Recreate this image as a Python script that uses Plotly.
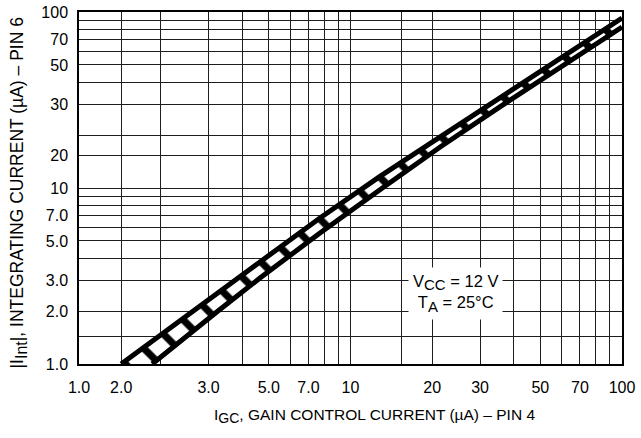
import plotly.graph_objects as go

# Boundary curves of the characteristic band
upper_x = [1.43, 1.99, 2.68, 3.25, 4.64, 7.72, 12.8, 21.4, 35.5, 59.1, 100]
upper_y = [1.0, 1.46, 2.05, 2.53, 3.80, 6.75, 11.6, 19.5, 32.5, 54.1, 92.4]
lower_x = [1.86, 2.46, 3.25, 4.64, 7.72, 12.8, 21.4, 35.5, 59.1, 100]
lower_y = [1.0, 1.42, 2.0, 3.08, 5.55, 9.74, 17.1, 28.9, 48.7, 82.2]

# Grid positions and tick labels
x_grid = [1, 1.43, 2, 3, 4, 5, 6, 7, 8, 9, 10, 15.4, 20, 30, 40, 50, 60, 70, 80, 90, 100]
x_labels = ["1.0", "2.0", "", "3.0", "", "5.0", "", "7.0", "", "", "10",
            "", "20", "30", "", "50", "", "70", "", "", "100"]
y_grid = [1, 1.44, 2, 3, 4, 5, 6, 7, 8, 9, 10, 15.4, 20, 30, 40, 50, 60, 70, 80, 90, 100]
y_labels = ["1.0", "", "2.0", "3.0", "", "5.0", "", "7.0", "", "", "10",
            "20", "", "30", "", "50", "", "70", "", "", "100"]

FONT = "Liberation Sans, Arial, Helvetica, sans-serif"


def sub(t, size):
    return '<sub><span style="font-size:%dpx">%s</span></sub>' % (size, t)


fig = go.Figure()

# hatched band between the two curves
fig.add_trace(go.Scatter(
    x=upper_x + lower_x[::-1],
    y=upper_y + lower_y[::-1],
    mode="none", fill="toself", fillcolor="white",
    fillpattern=dict(shape="\\", size=24, solidity=0.3,
                     fgcolor="black", bgcolor="white", fillmode="replace"),
    showlegend=False, hoverinfo="skip"))

for xs, ys in [(upper_x, upper_y), (lower_x, lower_y)]:
    fig.add_trace(go.Scatter(x=xs, y=ys, mode="lines",
                             line=dict(color="black", width=5),
                             showlegend=False, hoverinfo="skip"))

axis_common = dict(type="log", showgrid=True, gridcolor="#1e1e1e", gridwidth=1.1,
                   showline=True, linecolor="black", linewidth=1.5, mirror=True,
                   ticks="", zeroline=False, tickmode="array", automargin=False,
                   tickfont=dict(family=FONT, size=16, color="black"))

fig.update_xaxes(range=[0, 2], tickvals=x_grid, ticktext=x_labels,
                 ticklabelstandoff=8, **axis_common)
fig.update_yaxes(range=[0, 2], tickvals=y_grid, ticktext=y_labels,
                 ticklabelstandoff=6, **axis_common)

fig.add_annotation(
    xref="paper", yref="paper", x=0.694, y=0.199,
    xanchor="center", yanchor="middle",
    text="V" + sub("CC", 15) + " = 12 V<br>T" + sub("A", 15) + " = 25°C",
    showarrow=False, bgcolor="white", borderpad=4,
    font=dict(family=FONT, size=16.5, color="black"), align="center")

fig.add_annotation(
    xref="paper", yref="paper", x=0.545, y=-0.148,
    xanchor="center", yanchor="middle",
    text="I" + sub("GC", 14) + ", GAIN CONTROL CURRENT (µA) – PIN 4",
    showarrow=False, font=dict(family=FONT, size=15.5, color="black"))

fig.add_annotation(
    xref="paper", yref="paper", x=-0.112, y=0.485,
    xanchor="center", yanchor="middle", textangle=-90,
    text="|I" + sub("Int", 16) + "|, INTEGRATING CURRENT (µA) – PIN 6",
    showarrow=False, font=dict(family=FONT, size=17.5, color="black"))

fig.update_layout(width=641, height=438,
                  margin=dict(l=79, r=19, t=12, b=74),
                  paper_bgcolor="white", plot_bgcolor="white")

# remove the default page margin so the figure sits at the window's corner
fig.write_html("out.html", config={"displayModeBar": False},
               post_script="document.body.style.margin='0px';")
